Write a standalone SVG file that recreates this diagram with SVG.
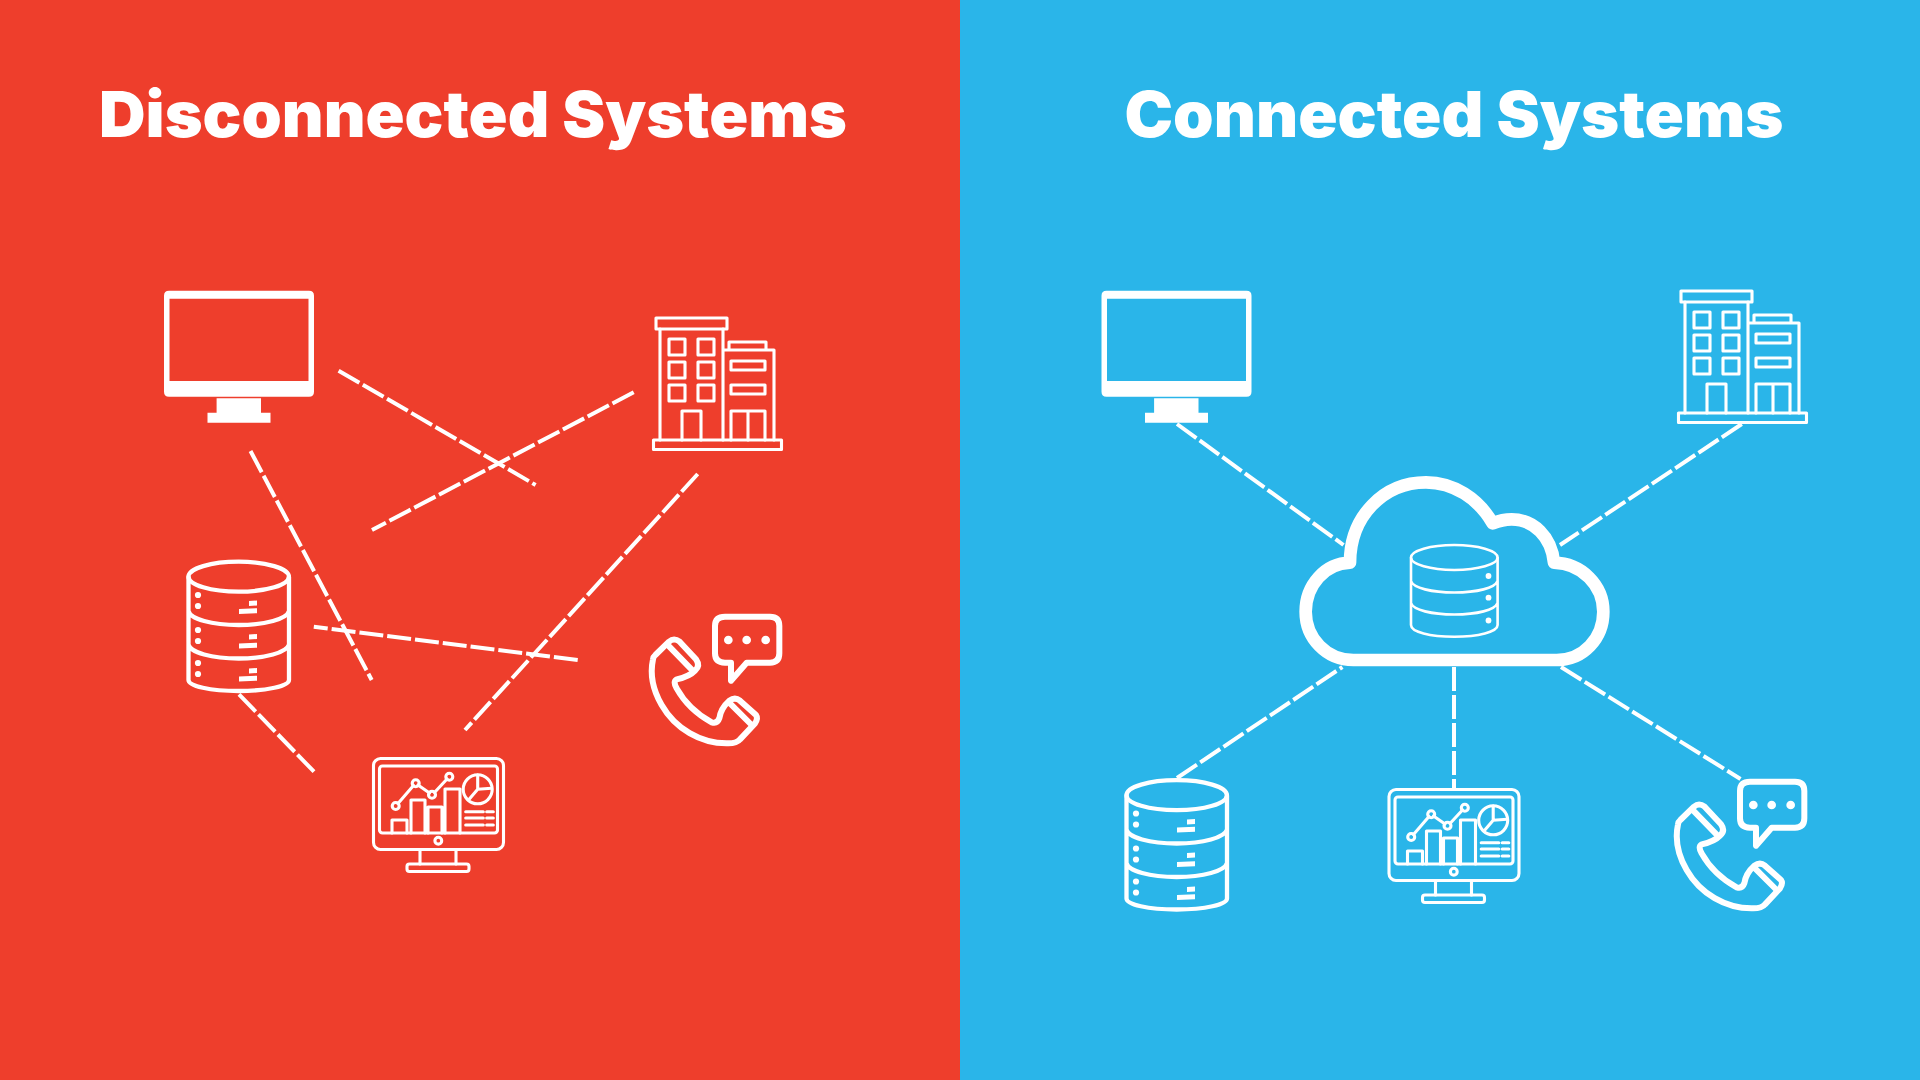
<svg xmlns="http://www.w3.org/2000/svg" xmlns:xlink="http://www.w3.org/1999/xlink" width="1920" height="1080" viewBox="0 0 1920 1080">
<style>
.t{font-family:"Inter","Noto Sans","Liberation Sans",sans-serif;font-weight:900;font-size:63.5px;fill:#fff}
.i{fill:none;stroke:#fff;stroke-linejoin:round;stroke-linecap:round}
.f{fill:#fff}
.c{fill:none;stroke:#fff;stroke-width:4;stroke-dasharray:24 4}
</style>
<defs>
<g id="monitor"><path class="f" fill-rule="evenodd" d="M169 290.7H309Q314 290.7 314 295.7V391.7Q314 396.7 309 396.7H169Q164 396.7 164 391.7V295.7Q164 290.7 169 290.7ZM169.5 298.7V381H308.5V298.7Z"/><path class="f" d="M216.6 398.3H261V412.7H270.5V422.7H207.5V412.7H216.6Z"/></g>
<g id="building" class="i" stroke-width="3.1"><rect x="656" y="318" width="71" height="11"/><path d="M660 329V440M723 329V440M723 350H774V440M729 350V342H766V350"/><path d="M669 339h16v16h-16zM698 339h16v16h-16zM669 362h16v16h-16zM698 362h16v16h-16zM669 385h16v16h-16zM698 385h16v16h-16z"/><rect x="731" y="361" width="34" height="9"/><rect x="731" y="385" width="34" height="9"/><path d="M682 440V411H701V440M731 440V411H765V440M748 411V440"/><rect x="653.5" y="440" width="128" height="9.5"/></g>
<g id="db"><g class="i" stroke-width="4.3"><ellipse cx="238.7" cy="576.7" rx="50.2" ry="15"/><path d="M188.5 577V680C188.5 686 210 691 238.7 691C267 691 289 686 289 680V577M188.5 611C190 619 212 625 238.7 625C265 625 287 619 289 611M188.5 644.5C190 652.5 212 658.5 238.7 658.5C265 658.5 287 652.5 289 644.5"/></g>
<g class="f"><circle cx="198" cy="595" r="3.1"/><circle cx="198" cy="606" r="3.1"/><circle cx="198" cy="630" r="3.1"/><circle cx="198" cy="641" r="3.1"/><circle cx="198" cy="663" r="3.1"/><circle cx="198" cy="674" r="3.1"/><path d="M249 601L257 600.5V605.5L249 606ZM239 609L257 608.2V613.2L239 614ZM249 634.5L257 634V639L249 639.5ZM239 643.5L257 642.7V647.7L239 648.5ZM249 668.5L257 668V673L249 673.5ZM239 676.5L257 675.7V680.7L239 681.5Z"/></g></g>
<g id="dash"><g class="i" stroke-width="3.1"><rect x="373.5" y="758.5" width="130" height="91" rx="7"/><rect x="379.5" y="766" width="118" height="67" rx="3"/><path d="M420 850V864M456 850V864"/><rect x="407" y="864" width="62" height="7.5" rx="2.5"/><circle cx="438.3" cy="840.7" r="3.4"/><path d="M392 833V820H407V833M411 833V800H425V833M428 833V807H442V833M445 833V789H460V833"/><path d="M398 803.5L413.5 785.5M418 785L429.5 793M434.5 792.5L447 779"/><circle cx="395.7" cy="806" r="3.5"/><circle cx="415.7" cy="783.3" r="3.5"/><circle cx="432" cy="794.7" r="3.5"/><circle cx="449.3" cy="776.7" r="3.5"/><circle cx="477.7" cy="789.3" r="14.5"/><path d="M477.7 775V789.3L491.5 788.3M477.7 789.3L468.5 800M465.7 811.7H483.3M465.7 818H483.3M465.7 825H483.3M486.7 811.7H493.3M486.7 818H493.3M486.7 825H493.3"/></g></g>
<g id="phone"><g transform="translate(630 600) scale(.33333)"><g class="i" stroke-width="18"><path d="M285 188Q255 188 255 160V78Q255 50 285 50H420Q448 50 448 78V160Q448 188 420 188H350L303 242V188Z"/><path d="M76 165L117 125Q132 112 149 125L198 178Q212 198 195 212Q178 230 140 238Q128 245 140 265C165 310 205 345 245 367Q262 372 268 355Q272 325 298 302Q315 290 330 302L378 345Q385 355 375 370L330 418Q320 430 295 430C212 432 135 385 95 315C66 265 60 220 69 178Q70 170 76 165Z"/><path d="M118 140L188 212M300 310L362 372"/></g><g class="f"><circle cx="295" cy="120" r="13"/><circle cx="350" cy="120" r="13"/><circle cx="407" cy="120" r="13"/></g></g></g>
</defs>
<rect width="960" height="1080" fill="#ee3e2c"/>
<rect x="960" width="960" height="1080" fill="#2ab5e9"/>
<text class="t" id="title-left" x="99" y="137" textLength="748" lengthAdjust="spacingAndGlyphs">Disconnected Systems</text>
<text class="t" id="title-right" x="1124.5" y="137" textLength="659" lengthAdjust="spacingAndGlyphs">Connected Systems</text>
<g id="connectors">
<path class="c" d="M338.6 370.7L535.6 485"/>
<path class="c" d="M633.7 392.3L372 530"/>
<path class="c" d="M250.5 451L371.7 680"/>
<path class="c" d="M577.7 660L313.8 626.7"/>
<path class="c" d="M697.7 474L465 730"/>
<path class="c" d="M239 694.3L314 771.7"/>
<path class="c" d="M1177 424L1343.5 545"/>
<path class="c" d="M1741.8 424L1560 545"/>
<path class="c" d="M1177 778L1342.4 667"/>
<path class="c" d="M1454 667V789"/>
<path class="c" d="M1561 667L1740.5 779"/>
</g>
<g id="left-monitor"><use href="#monitor"/></g>
<g id="left-building"><use href="#building"/></g>
<g id="left-database"><use href="#db"/></g>
<g id="left-dashboard"><use href="#dash"/></g>
<g id="left-phone"><use href="#phone"/></g>
<g id="right-monitor"><use href="#monitor" transform="translate(937.5 0)"/></g>
<g id="right-building"><use href="#building" transform="translate(1025 -27)"/></g>
<g id="right-database"><use href="#db" transform="translate(938 218.5)"/></g>
<g id="right-dashboard"><use href="#dash" transform="translate(1015.5 31)"/></g>
<g id="right-phone"><use href="#phone" transform="translate(1025 165)"/></g>
<g id="cloud"><path class="i" transform="translate(1280 460) scale(.33333)" stroke-width="38" d="M220 600H830C910 600 970 535 970 455C970 375 905 310 822 308C815 230 760 178 695 178C675 178 655 183 638 190C595 115 520 67 438 67C310 67 210 170 210 308C135 310 77 375 77 455C77 535 140 600 220 600Z"/>
<g class="i" stroke-width="2.6"><ellipse cx="1454.3" cy="557.5" rx="43.3" ry="12.5"/><path d="M1411 558V625C1411 632 1430 636.7 1454.3 636.7C1478 636.7 1497.6 632 1497.6 625V558M1411 581C1413 588 1432 592.5 1454.3 592.5C1477 592.5 1495 588 1497.6 581M1411 603C1413 610 1432 614.5 1454.3 614.5C1477 614.5 1495 610 1497.6 603"/></g>
<g class="f"><circle cx="1488.5" cy="576" r="2.9"/><circle cx="1488.5" cy="597.7" r="2.9"/><circle cx="1488.5" cy="620.5" r="2.9"/></g></g>
</svg>
